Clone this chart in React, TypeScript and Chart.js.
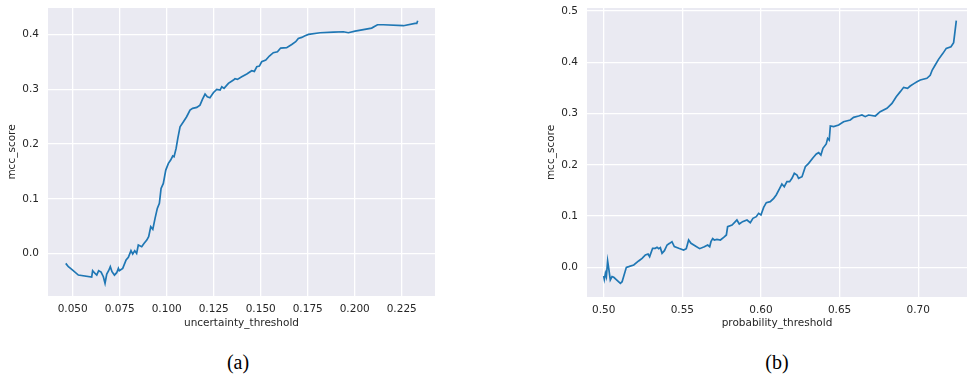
import React, { useEffect, useRef } from "react";
import { Chart, registerables } from "chart.js";

Chart.register(...registerables);

// ---- Data (a): uncertainty threshold vs MCC ----
const uncertaintyThreshold = [
  0.0463, 0.0477, 0.0495, 0.053, 0.0601, 0.0606, 0.0619, 0.0628, 0.0638, 0.0651,
  0.0663, 0.0672, 0.0681, 0.0691, 0.07, 0.0709, 0.0722, 0.0734, 0.0743, 0.0748,
  0.0766, 0.0784, 0.0796, 0.081, 0.0819, 0.083, 0.084, 0.0849, 0.0867, 0.0879,
  0.0894, 0.0904, 0.0915, 0.0926, 0.0938, 0.095, 0.0961, 0.097, 0.0982, 0.0995,
  0.1009, 0.1021, 0.1032, 0.1039, 0.105, 0.1059, 0.1071, 0.1089, 0.1106, 0.1124,
  0.1138, 0.116, 0.1177, 0.119, 0.1204, 0.1216, 0.123, 0.1248, 0.1266, 0.1284,
  0.1293, 0.1305, 0.1328, 0.1355, 0.1363, 0.1376, 0.1399, 0.1426, 0.1452, 0.1466,
  0.1479, 0.1493, 0.1505, 0.1527, 0.1546, 0.1567, 0.1589, 0.1606, 0.1638, 0.1665,
  0.1686, 0.17, 0.1718, 0.1736, 0.1754, 0.1816, 0.1887, 0.194, 0.1966, 0.2002,
  0.209, 0.2121, 0.2152, 0.2259, 0.2321, 0.233, 0.2335,
];
const mccScoreA = [
  -0.0176, -0.0237, -0.0286, -0.0389, -0.0425, -0.031, -0.036, -0.039, -0.031, -0.0334,
  -0.042, -0.054, -0.037, -0.031, -0.0237, -0.0328, -0.039, -0.0346, -0.0267, -0.031,
  -0.0267, -0.0115, -0.0067, 0.0055, -0.0006, 0.0055, 0.0006, 0.0158, 0.0128, 0.0188,
  0.0249, 0.031, 0.0492, 0.0444, 0.0644, 0.0826, 0.0918, 0.1191, 0.1282, 0.1525,
  0.1647, 0.1708, 0.1781, 0.1768, 0.192, 0.2103, 0.2315, 0.2407, 0.2498, 0.2619,
  0.265, 0.2668, 0.271, 0.2814, 0.2911, 0.2862, 0.2844, 0.2935, 0.2996, 0.2984,
  0.3045, 0.3014, 0.3105, 0.3166, 0.319, 0.3178, 0.3227, 0.3276, 0.3336, 0.3324,
  0.3409, 0.3421, 0.35, 0.3531, 0.3604, 0.3665, 0.3683, 0.375, 0.3756, 0.3816,
  0.3865, 0.3926, 0.3944, 0.3974, 0.3999, 0.4029, 0.4041, 0.4047, 0.4029, 0.4059,
  0.4114, 0.4175, 0.4175, 0.4157, 0.4199, 0.4199, 0.4248,
];

// ---- Data (b): probability threshold vs MCC ----
const probabilityThreshold = [
  0.5, 0.5004, 0.5011, 0.5017, 0.5025, 0.5032, 0.5042, 0.5053, 0.5064, 0.5106,
  0.5117, 0.5144, 0.5159, 0.5191, 0.5222, 0.5244, 0.5265, 0.5282, 0.5292, 0.5311,
  0.5328, 0.5339, 0.535, 0.536, 0.5371, 0.5386, 0.5403, 0.5419, 0.5434, 0.5449,
  0.5477, 0.5508, 0.5525, 0.554, 0.5555, 0.5583, 0.561, 0.564, 0.5661, 0.5674,
  0.5682, 0.5693, 0.5703, 0.572, 0.5742, 0.5763, 0.578, 0.5788, 0.5816, 0.5837,
  0.5847, 0.5862, 0.5883, 0.5911, 0.5932, 0.5949, 0.597, 0.5985, 0.6, 0.6017,
  0.6034, 0.6059, 0.6081, 0.6097, 0.6119, 0.6133, 0.6148, 0.6165, 0.6182, 0.6197,
  0.6212, 0.6229, 0.6239, 0.6261, 0.6282, 0.6303, 0.6331, 0.6352, 0.6367, 0.6381,
  0.6394, 0.6415, 0.6424, 0.6434, 0.6441, 0.6462, 0.6494, 0.6525, 0.6568, 0.6589,
  0.6621, 0.6642, 0.6663, 0.6684, 0.6727, 0.6758, 0.6801, 0.6833, 0.686, 0.6886,
  0.6907, 0.6932, 0.6949, 0.6975, 0.6992, 0.7013, 0.7055, 0.7076, 0.7089, 0.7108,
  0.7129, 0.7157, 0.7178, 0.7208, 0.7225, 0.7242,
];
const mccScoreB = [
  -0.0169, -0.0234, -0.0117, -0.0182, 0.0124, -0.002, -0.0247, -0.0182, -0.0195, -0.0312,
  -0.028, 0.0, 0.0013, 0.0046, 0.0124, 0.0176, 0.0241, 0.026, 0.0208, 0.0371,
  0.0371, 0.039, 0.0364, 0.0384, 0.0273, 0.0325, 0.0436, 0.0468, 0.05, 0.0403,
  0.0371, 0.0338, 0.0364, 0.0533, 0.0468, 0.0416, 0.0364, 0.0403, 0.0436, 0.0403,
  0.05, 0.0559, 0.0533, 0.0546, 0.0533, 0.0585, 0.0631, 0.0793, 0.0826, 0.0891,
  0.0923, 0.0845, 0.0891, 0.0923, 0.0871, 0.0956, 0.0988, 0.1053, 0.1021, 0.117,
  0.1261, 0.1281, 0.1346, 0.1411, 0.1541, 0.1625, 0.1573, 0.1671, 0.1671, 0.1736,
  0.1834, 0.1801, 0.1736, 0.1768, 0.1964, 0.2029, 0.2139, 0.2211, 0.2237, 0.2191,
  0.2321, 0.2406, 0.2516, 0.2484, 0.2757, 0.2744, 0.2776, 0.2841, 0.2874, 0.2926,
  0.2952, 0.2971, 0.2939, 0.2971, 0.2952, 0.3036, 0.3101, 0.3199, 0.3329, 0.3427,
  0.3511, 0.3492, 0.3537, 0.3589, 0.3622, 0.3654, 0.3687, 0.3745, 0.3849, 0.3947,
  0.4057, 0.4174, 0.4272, 0.4304, 0.4382, 0.4811,
];

// ---- Tick labels ----
const ticksXA = [0.05, 0.075, 0.1, 0.125, 0.15, 0.175, 0.2, 0.225];
const ticksYA = [0.0, 0.1, 0.2, 0.3, 0.4];
const ticksXB = [0.5, 0.55, 0.6, 0.65, 0.7];
const ticksYB = [0.0, 0.1, 0.2, 0.3, 0.4, 0.5];

const FONT = { family: "'DejaVu Sans', sans-serif", size: 10.5 };
const TEXT = "#262626";
const BG = "#EAEAF2";
const LINE = "#1f77b4";

const bgPlugin = {
  id: "bgPlugin",
  beforeDraw(chart: any) {
    const { ctx, chartArea } = chart;
    if (!chartArea) return;
    ctx.save();
    ctx.fillStyle = BG;
    ctx.fillRect(chartArea.left, chartArea.top, chartArea.right - chartArea.left, chartArea.bottom - chartArea.top);
    ctx.restore();
  },
};

type PanelProps = {
  xs: number[];
  ys: number[];
  xTicks: number[];
  yTicks: number[];
  xDigits: number;
  yDigits: number;
  xMin: number;
  xMax: number;
  yMin: number;
  yMax: number;
  xTitle: string;
  width: number;
  height: number;
  padRight: number;
  xAxisHeight: number;
};

function Panel(p: PanelProps) {
  const ref = useRef<HTMLCanvasElement | null>(null);
  useEffect(() => {
    if (!ref.current) return;
    const points = p.xs.map((x, i) => ({ x, y: p.ys[i] }));
    const chart = new Chart(ref.current, {
      type: "scatter",
      data: {
        datasets: [
          {
            data: points,
            showLine: true,
            borderColor: LINE,
            backgroundColor: LINE,
            borderWidth: 1.7,
            pointRadius: 0,
            tension: 0,
          },
        ],
      },
      options: {
        animation: false,
        responsive: false,
        devicePixelRatio: 1,
        layout: { padding: { top: 8, right: p.padRight, left: 0, bottom: 0 } },
        plugins: { legend: { display: false }, tooltip: { enabled: false } },
        scales: {
          x: {
            type: "linear",
            min: p.xMin,
            max: p.xMax,
            afterBuildTicks: (s: any) => {
              s.ticks = p.xTicks.map((v) => ({ value: v }));
            },
            afterFit: (s: any) => {
              s.height = p.xAxisHeight;
              s.paddingLeft = 0;
              s.paddingRight = 0;
            },
            grid: { color: "#ffffff", lineWidth: 1.3, drawTicks: false },
            border: { display: false },
            ticks: {
              color: TEXT,
              font: FONT,
              padding: 7,
              autoSkip: false,
              maxRotation: 0,
              callback: (v: any) => Number(v).toFixed(p.xDigits),
            },
            title: { display: true, text: p.xTitle, color: TEXT, font: FONT, padding: { top: 0, bottom: 10 } },
          },
          y: {
            type: "linear",
            min: p.yMin,
            max: p.yMax,
            afterBuildTicks: (s: any) => {
              s.ticks = p.yTicks.map((v) => ({ value: v }));
            },
            afterFit: (s: any) => {
              s.width = 48;
              s.paddingTop = 0;
              s.paddingBottom = 0;
            },
            grid: { color: "#ffffff", lineWidth: 1.3, drawTicks: false },
            border: { display: false },
            ticks: {
              color: TEXT,
              font: FONT,
              padding: 9,
              autoSkip: false,
              callback: (v: any) => Number(v).toFixed(p.yDigits),
            },
            title: { display: true, text: "mcc_score", color: TEXT, font: FONT, padding: { top: 6, bottom: 0 } },
          },
        },
      },
      plugins: [bgPlugin],
    } as any);
    return () => chart.destroy();
  }, []);
  return <canvas ref={ref} width={p.width} height={p.height} style={{ width: p.width, height: p.height, display: "block" }} />;
}

export default function App() {
  const capStyle: React.CSSProperties = {
    position: "absolute",
    top: 350,
    width: 60,
    textAlign: "center",
    fontFamily: "'Liberation Serif', 'Times New Roman', serif",
    fontSize: 20,
    lineHeight: "24px",
    color: "#000",
  };
  return (
    <div style={{ position: "absolute", left: 0, top: 0, width: 967, height: 376, overflow: "hidden", background: "#fff" }}>
      <div style={{ position: "absolute", left: 0, top: 0 }}>
        <Panel
          xs={uncertaintyThreshold}
          ys={mccScoreA}
          xTicks={ticksXA}
          yTicks={ticksYA}
          xDigits={3}
          yDigits={1}
          xMin={0.03686}
          xMax={0.2427}
          yMin={-0.0771}
          yMax={0.448}
          xTitle="uncertainty_threshold"
          width={440}
          height={340}
          padRight={5}
          xAxisHeight={44}
        />
      </div>
      <div style={{ position: "absolute", left: 539, top: 0 }}>
        <Panel
          xs={probabilityThreshold}
          ys={mccScoreB}
          xTicks={ticksXB}
          yTicks={ticksYB}
          xDigits={2}
          yDigits={1}
          xMin={0.48938}
          xMax={0.731}
          yMin={-0.0579}
          yMax={0.5059}
          xTitle="probability_threshold"
          width={428}
          height={340}
          padRight={0}
          xAxisHeight={43}
        />
      </div>
      <div style={{ ...capStyle, left: 238 - 30 }}>(a)</div>
      <div style={{ ...capStyle, left: 777 - 30 }}>(b)</div>
    </div>
  );
}
